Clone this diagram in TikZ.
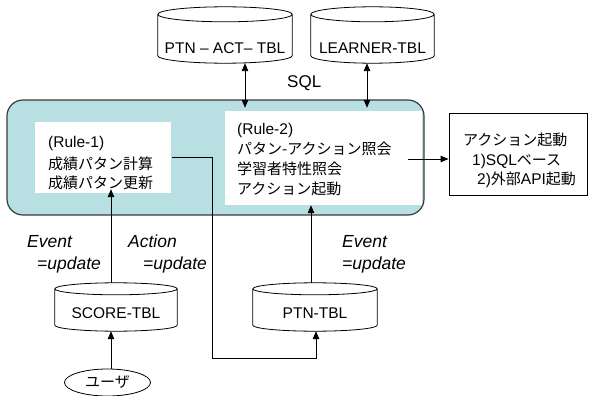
\documentclass[tikz,border=0pt]{standalone}
\usepackage{fontspec}
\setmainfont{Liberation Sans}
\newfontfamily\jp{Noto Sans CJK JP}
\usetikzlibrary{arrows.meta,calc,shapes.geometric}
\definecolor{panelfill}{RGB}{184,223,226}
\definecolor{paneledge}{RGB}{60,60,60}
\newcommand\drawcyl[2]{%
  \draw[cylline] let \p1=(#1.north west), \p2=(#1.south east), \n1={(\x2-\x1)/2} in
    (\x1,\y1-#2) -- (\x1,\y2+#2) arc[start angle=180,end angle=360,x radius=\n1,y radius=#2]
    -- (\x2,\y1-#2)
    (\x1+\n1,\y1-#2) ellipse[x radius=\n1,y radius=#2];}
\tikzset{
  cylline/.style={draw=black,line width=0.8pt},
  tbl/.style={inner sep=0pt,anchor=base,font=\fontsize{15.5}{18}\selectfont},
  whitebox/.style={fill=white,draw=none,inner sep=0pt},
  txt/.style={inner sep=0pt,anchor=base west,font=\fontsize{15.5}{18}\selectfont},
  lbl/.style={inner sep=0pt,anchor=base west,font=\fontsize{17.5}{20}\selectfont\itshape},
  arr/.style={draw=black,line width=0.9pt,-{Triangle[length=8pt,width=6.5pt]}},
  darr/.style={draw=black,line width=0.9pt,{Triangle[length=8pt,width=6.5pt]}-{Triangle[length=8pt,width=6.5pt]}},
}
\begin{document}
\begin{tikzpicture}[x=1pt,y=-1pt]
\useasboundingbox (0,0) rectangle (590,396);
% main panel
\node[draw=paneledge,fill=panelfill,line width=1.2pt,rounded corners=16pt,inner sep=0pt,
      minimum width=417pt,minimum height=115pt] (panel) at (215.5,157.5) {};
\node[whitebox,minimum width=136pt,minimum height=71pt] (r1box) at (103,157.5) {};
\node[whitebox,minimum width=197pt,minimum height=94pt] (r2box) at (323.5,158) {};
% rule texts
\node[txt] (r1a) at (48,148) {(Rule-1)};
\node[txt] (r1b) at (48,169) {\jp\fontsize{15}{18}\selectfont 成績パタン計算};
\node[txt] (r1c) at (48,189) {\jp\fontsize{15}{18}\selectfont 成績パタン更新};
\node[txt] (r2a) at (237,135) {(Rule-2)};
\node[txt] (r2b) at (237,155) {\jp\fontsize{15}{18}\selectfont パタン-アクション照会};
\node[txt] (r2c) at (237,175) {\jp\fontsize{15}{18}\selectfont 学習者特性照会};
\node[txt] (r2d) at (237,194) {\jp\fontsize{15}{18}\selectfont アクション起動};
% action box
\node[draw=black,line width=0.9pt,fill=white,inner sep=0pt,minimum width=138pt,minimum height=82pt] (act) at (518,154) {};
\node[txt] (acta) at (463,146) {\jp\fontsize{15}{18}\selectfont アクション起動};
\node[txt] (actb) at (472,166) {1)SQL{\jp\fontsize{15}{18}\selectfont ベース}};
\node[txt] (actc) at (477,185) {2){\jp\fontsize{15}{18}\selectfont 外部}API{\jp\fontsize{15}{18}\selectfont 起動}};
% tables
\node[tbl,text height=47pt,text depth=9pt,minimum width=134pt] (ptnact) at (225,54) {PTN – ACT– TBL};
\node[tbl,text height=47pt,text depth=9pt,minimum width=123pt] (learner) at (372.5,54) {LEARNER-TBL};
\node[tbl,text height=35pt,text depth=13pt,minimum width=122pt] (score) at (116,318) {SCORE-TBL};
\node[tbl,text height=35pt,text depth=13pt,minimum width=124pt] (ptntbl) at (315,318) {PTN-TBL};
\drawcyl{ptnact}{7.5pt}
\drawcyl{learner}{7.5pt}
\drawcyl{score}{6pt}
\drawcyl{ptntbl}{6pt}
% user
\node[draw=black,line width=0.8pt,ellipse,inner sep=0pt,minimum width=86pt,minimum height=27pt,
      font=\jp\fontsize{15}{18}\selectfont] (user) at (107.5,382.5) {ユーザ};
% labels
\node[inner sep=0pt,anchor=base west,font=\fontsize{17}{20}\selectfont] (sql) at (287,88) {SQL};
\node[lbl] (ev1) at (27,247) {Event};
\node[lbl] (up1) at (37,269) {=update};
\node[lbl] (ac2) at (128,247) {Action};
\node[lbl] (up2) at (143,269) {=update};
\node[lbl] (ev3) at (342,247) {Event};
\node[lbl] (up3) at (342,269) {=update};
% helper coordinates
\coordinate (xa) at (245,0);
\coordinate (xb) at (367,0);
\coordinate (xs) at (111,0);
\coordinate (xp) at (311,0);
\coordinate (xq) at (316,0);
\coordinate (r1out) at (172,157);
\coordinate (bend) at (212,358);
\coordinate (r2out) at (408,159);
% connectors
\draw[darr] (ptnact.south -| xa) -- ([yshift=3pt]r2box.north -| xa);
\draw[darr] (learner.south -| xb) -- ([yshift=3pt]r2box.north -| xb);
\draw[arr] (r2out) -- (r2out -| act.west);
\draw[arr] (xs |- score.north) -- ([yshift=4pt]xs |- r1box.south);
\draw[arr] (xs |- user.north) -- (xs |- score.south);
\draw[arr] (xp |- ptntbl.north) -- (xp |- r2box.south);
\draw[arr] (r1out) -| (bend) -| (xq |- ptntbl.south);
\end{tikzpicture}
\end{document}
